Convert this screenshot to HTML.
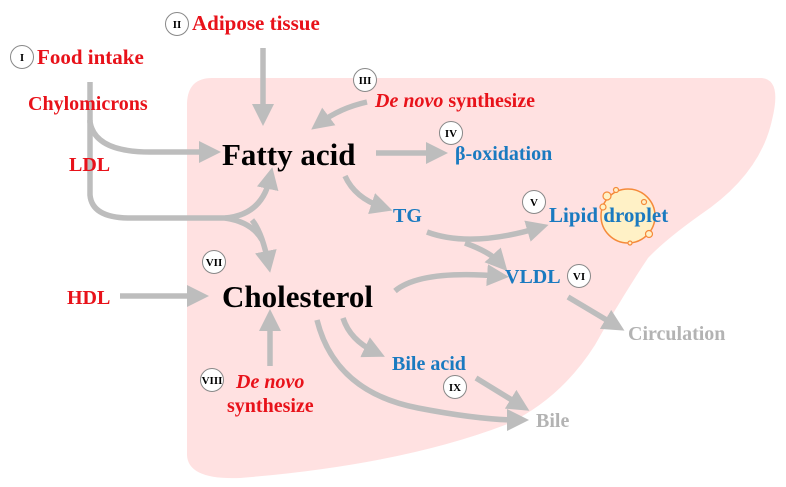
<!DOCTYPE html>
<html><head><meta charset="utf-8"><style>
html,body{margin:0;padding:0;background:#fff;}
svg{display:block;}
text{font-family:"Liberation Serif",serif;font-weight:bold;}
.r{fill:#e8121a;}
.b{fill:#1a7ac0;}
.g{fill:#b3b3b3;}
.k{fill:#000;}
.ar{stroke:#bdbdbd;stroke-width:5.5;fill:none;}
.n{fill:#fff;stroke:#888;stroke-width:1;}
.nt{font-size:11px;fill:#000;text-anchor:middle;}
</style></head><body>
<svg width="786" height="487" viewBox="0 0 786 487" xmlns="http://www.w3.org/2000/svg">
<defs>
<marker id="a" markerWidth="4" markerHeight="4" refX="2" refY="2" orient="auto" markerUnits="strokeWidth">
<path d="M0,0 L4,2 L0,4 z" fill="#bdbdbd"/></marker>
</defs>
<path d="M212,78 L762,78 Q782,80 772,120 Q760,175 700,215 Q665,240 648,258 Q620,300 595,345 Q560,400 505,425 Q400,465 240,478 Q188,480 187,455 L187,103 Q188,78 212,78 Z" fill="#ffe1e1"/>

<path class="ar" marker-end="url(#a)" d="M263,48 L263,115"/>
<path class="ar" marker-end="url(#a)" d="M367,102 Q340,108 320,123"/>
<path class="ar" marker-end="url(#a)" d="M90,82 L90,122 Q95,152 150,152 L210,152"/>
<path class="ar" marker-end="url(#a)" d="M90,120 L90,195 Q92,218 130,218 L225,218 Q262,215 270,178"/>
<path class="ar" d="M225,218 Q252,222 262,240"/>
<path class="ar" marker-end="url(#a)" d="M252,220 Q262,232 268,262"/>
<path class="ar" marker-end="url(#a)" d="M376,153 L437,153"/>
<path class="ar" marker-end="url(#a)" d="M345,176 Q355,198 382,207"/>
<path class="ar" marker-end="url(#a)" d="M427,232 Q470,248 538,228"/>
<path class="ar" marker-end="url(#a)" d="M465,243 Q490,252 500,263"/>
<path class="ar" marker-end="url(#a)" d="M395,291 Q420,270 498,276"/>
<path class="ar" marker-end="url(#a)" d="M120,296 L198,296"/>
<path class="ar" marker-end="url(#a)" d="M270,366 L270,320"/>
<path class="ar" marker-end="url(#a)" d="M343,318 Q350,340 375,352"/>
<path class="ar" marker-end="url(#a)" d="M317,320 Q335,392 418,408 Q480,420 518,420"/>
<path class="ar" marker-end="url(#a)" d="M476,378 L520,405"/>
<path class="ar" marker-end="url(#a)" d="M568,297 L615,325"/>

<circle cx="628" cy="216" r="27" fill="#fff1c6" stroke="#f58a3a" stroke-width="1.5"/>
<g fill="#fff1c6" stroke="#f58a3a" stroke-width="1.2">
<circle cx="607" cy="196" r="4"/><circle cx="616" cy="190" r="2.5"/><circle cx="603" cy="207" r="3"/>
<circle cx="644" cy="202" r="2.5"/><circle cx="649" cy="234" r="3.5"/><circle cx="630" cy="243" r="2"/>
</g>

<text x="37" y="64" class="r" font-size="21">Food intake</text>
<text x="28" y="110" class="r" font-size="20">Chylomicrons</text>
<text x="69" y="171" class="r" font-size="20">LDL</text>
<text x="192" y="30" class="r" font-size="21">Adipose tissue</text>
<text x="375" y="107" class="r" font-size="20"><tspan font-style="italic">De novo</tspan> synthesize</text>
<text x="222" y="165" class="k" font-size="31">Fatty acid</text>
<text x="455" y="160" class="b" font-size="20">β-oxidation</text>
<text x="393" y="222" class="b" font-size="20">TG</text>
<text x="549" y="222" class="b" font-size="21">Lipid droplet</text>
<text x="505" y="283" class="b" font-size="20">VLDL</text>
<text x="628" y="340" class="g" font-size="20">Circulation</text>
<text x="67" y="304" class="r" font-size="20">HDL</text>
<text x="222" y="307" class="k" font-size="31">Cholesterol</text>
<text x="392" y="370" class="b" font-size="20">Bile acid</text>
<text x="536" y="427" class="g" font-size="20">Bile</text>
<text x="236" y="388" class="r" font-size="20" font-style="italic">De novo</text>
<text x="227" y="412" class="r" font-size="20">synthesize</text>

<circle class="n" cx="22" cy="57" r="11.5"/><text class="nt" x="22" y="61">I</text>
<circle class="n" cx="177" cy="24" r="11.5"/><text class="nt" x="177" y="28">II</text>
<circle class="n" cx="365" cy="80" r="11.5"/><text class="nt" x="365" y="84">III</text>
<circle class="n" cx="451" cy="133" r="11.5"/><text class="nt" x="451" y="137">IV</text>
<circle class="n" cx="534" cy="202" r="11.5"/><text class="nt" x="534" y="206">V</text>
<circle class="n" cx="579" cy="276" r="11.5"/><text class="nt" x="579" y="280">VI</text>
<circle class="n" cx="214" cy="262" r="11.5"/><text class="nt" x="214" y="266">VII</text>
<circle class="n" cx="212" cy="380" r="11.5"/><text class="nt" x="212" y="384">VIII</text>
<circle class="n" cx="455" cy="387" r="11.5"/><text class="nt" x="455" y="391">IX</text>
</svg>
</body></html>
